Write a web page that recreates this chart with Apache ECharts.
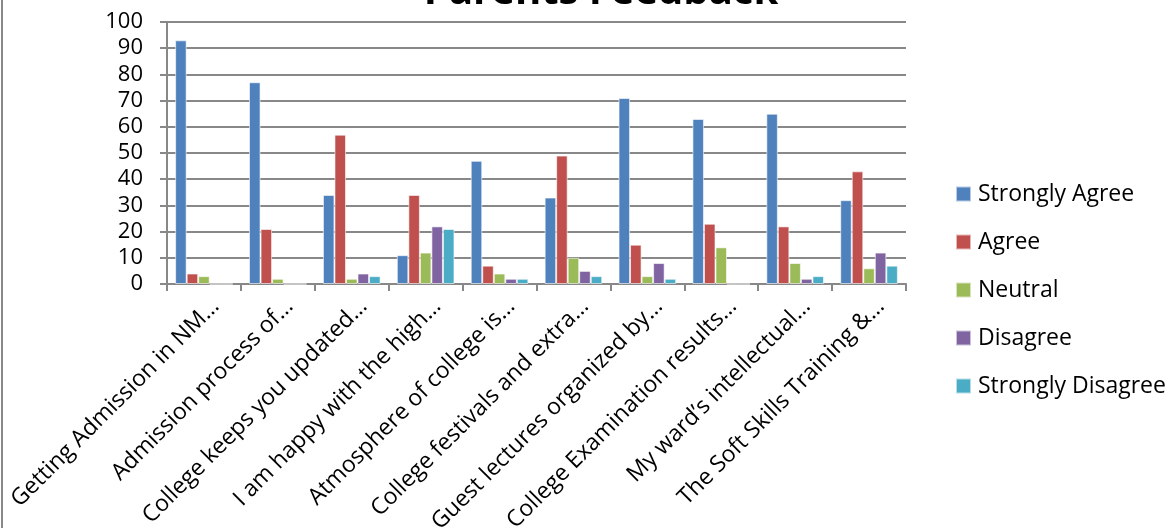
<!DOCTYPE html>
<html>
<head>
<meta charset="utf-8">
<script src="https://cdn.jsdelivr.net/npm/echarts@6/dist/echarts.min.js"></script>
<style>
  html, body { margin: 0; padding: 0; background: #fff; }
  #chart { width: 1168px; height: 528px; }
</style>
</head>
<body>
<div id="chart"></div>
<script>
// Survey statements (shortened as shown on the axis)
const categories = [
  'Getting Admission in NM…',
  'Admission process of…',
  'College keeps you updated…',
  'I am happy with the high…',
  'Atmosphere of college is…',
  'College festivals and extra…',
  'Guest lectures organized by…',
  'College Examination results…',
  'My ward’s intellectual…',
  'The Soft Skills Training &…'
];

// Responses per statement
const stronglyAgree    = [93, 77, 34, 11, 47, 33, 71, 63, 65, 32];
const agree            = [4, 21, 57, 34, 7, 49, 15, 23, 22, 43];
const neutral          = [3, 2, 2, 12, 4, 10, 3, 14, 8, 6];
const disagree         = [0, 0, 4, 22, 2, 5, 8, 0, 2, 12];
const stronglyDisagree = [0, 0, 3, 21, 2, 3, 2, 0, 3, 7];

const yTicks = [0, 10, 20, 30, 40, 50, 60, 70, 80, 90, 100];

const seriesDefs = [
  { name: 'Strongly Agree', data: stronglyAgree, color: '#4F81BD' },
  { name: 'Agree', data: agree, color: '#C0504D' },
  { name: 'Neutral', data: neutral, color: '#9BBB59' },
  { name: 'Disagree', data: disagree, color: '#8064A2' },
  { name: 'Strongly Disagree', data: stronglyDisagree, color: '#4BACC6' }
];

const font = '"Open Sans", "Noto Sans", sans-serif';
const chart = echarts.init(document.getElementById('chart'));

chart.setOption({
  animation: false,
  backgroundColor: '#fff',
  title: {
    text: 'Parents Feedback',
    left: 596,
    textAlign: 'center',
    top: -32,
    textStyle: { fontFamily: font, fontSize: 40, fontWeight: 'bold', color: '#000' }
  },
  legend: {
    orient: 'vertical',
    left: 950,
    top: 177,
    itemGap: 24,
    itemWidth: 15,
    itemHeight: 15,
    icon: 'rect',
    textStyle: { fontFamily: font, fontSize: 23, lineHeight: 24, color: '#000', padding: [0, 0, 0, 2] },
    data: seriesDefs.map(s => s.name)
  },
  grid: {
    left: 167, right: 262, top: 22, bottom: 244,
    containLabel: false,
    outerBoundsMode: 'none'
  },
  xAxis: {
    type: 'category',
    data: categories,
    axisLine: { lineStyle: { color: '#888', width: 2 } },
    axisTick: { show: true, length: 7, lineStyle: { color: '#888', width: 2 } },
    axisLabel: {
      rotate: 45,
      interval: 0,
      margin: 7,
      verticalAlign: 'top',
      padding: [5, 0, 0, 0],
      fontFamily: font,
      fontSize: 23,
      color: '#000'
    }
  },
  yAxis: {
    type: 'value',
    min: yTicks[0],
    max: yTicks[yTicks.length - 1],
    interval: 10,
    axisLine: { show: true, lineStyle: { color: '#888', width: 2 } },
    axisTick: { show: true, length: 7, lineStyle: { color: '#888', width: 2 } },
    axisLabel: { fontFamily: font, fontSize: 22, color: '#000', margin: 24 },
    splitLine: { lineStyle: { color: '#888', width: 2 } }
  },
  series: seriesDefs.map(s => ({
    name: s.name,
    type: 'bar',
    data: s.data,
    barGap: '0%',
    barCategoryGap: '22%',
    itemStyle: { color: s.color, borderColor: 'rgba(255,255,255,0.6)', borderWidth: 1 }
  })),
  graphic: [{
    type: 'line',
    shape: { x1: 2, y1: 0, x2: 2, y2: 528 },
    style: { stroke: '#888', lineWidth: 2 }
  }]
});
</script>
</body>
</html>
